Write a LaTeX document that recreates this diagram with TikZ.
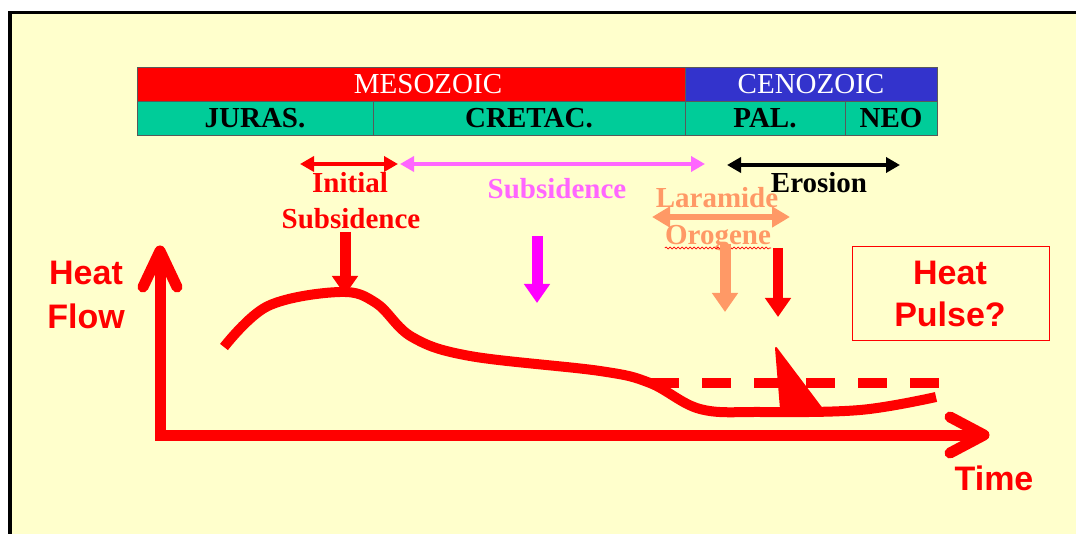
\documentclass[tikz,border=0pt]{standalone}
\usepackage{fontspec}
\setmainfont{Liberation Serif}
\setsansfont{Liberation Sans}
\usetikzlibrary{arrows.meta,positioning,calc,decorations.pathmorphing}
\definecolor{slideyellow}{HTML}{FFFFCC}
\definecolor{mesored}{HTML}{FF0000}
\definecolor{cenoblue}{HTML}{3333CC}
\definecolor{periodgreen}{HTML}{00CC99}
\definecolor{subpink}{HTML}{FF66FF}
\definecolor{subviolet}{HTML}{FF00FF}
\definecolor{oroorange}{HTML}{FF9966}

\begin{document}
\begin{tikzpicture}[
  x=1pt,y=-1pt,
  era/.style={rectangle,minimum height=34pt,inner sep=0pt,outer sep=0pt,
    draw=black!65,line width=.8pt,text=white,font=\fontsize{29}{33}\selectfont},
  period/.style={era,fill=periodgreen,text=black,font=\bfseries\fontsize{29}{33}\selectfont},
  span/.style={line width=4pt,{Triangle[width=15pt,length=14pt]}-{Triangle[width=15pt,length=14pt]}},
  phase/.style={anchor=base,inner sep=0pt,font=\bfseries\fontsize{29}{33}\selectfont},
  drop/.style={line width=11pt,-{Triangle[width=25pt,length=19pt]}},
  axis/.style={draw=red,line width=11pt,line join=round},
  big/.style={anchor=base,inner sep=0pt,text=red,font=\sffamily\bfseries\fontsize{34}{40}\selectfont}
]
\useasboundingbox (0,0) rectangle (1076,534);
\fill[white] (0,0) rectangle (1076,534);
\draw[line width=3.5pt,fill=slideyellow] (10,12.5) rectangle (1100,560);

% time scale
\node[era,fill=mesored,minimum width=548pt,anchor=north west] (meso) at (137,67) {\hspace*{34pt}MESOZOIC};
\node[era,fill=cenoblue,minimum width=252pt,right=0pt of meso] (ceno) {CENOZOIC};
\node[period,minimum width=236pt,anchor=north west] (juras) at (meso.south west) {JURAS.};
\node[period,minimum width=312pt,right=0pt of juras] (cretac) {CRETAC.};
\node[period,minimum width=160pt,right=0pt of cretac] (pal) {PAL.};
\node[period,minimum width=92pt,right=0pt of pal] (neo) {NEO};

% phases
\coordinate (initL) at (300,164);
\coordinate (initR) at (398,164);
\coordinate (subL) at (400,164);
\coordinate (subR) at (705,164);
\coordinate (erosL) at (727,165);
\coordinate (erosR) at (900,165);
\coordinate (laraL) at (652,217);
\coordinate (laraR) at (790,217);
\node[phase,text=red] (init) at (350,193) {Initial};
\node[phase,text=red] (isub) at (351,229) {Subsidence};
\node[phase,text=subpink] (sub) at (557,199) {Subsidence};
\node[phase,text=black] (eros) at (819,193) {Erosion};
\node[phase,text=oroorange] (lara) at (717,208) {Laramide};
\node[phase,text=oroorange] (orog) at (718,245) {Orogene};
\draw[red,line width=.7pt,decorate,decoration={snake,amplitude=1pt,segment length=4pt}]
  ($(orog.base west)+(0,3)$) -- ($(orog.base east)+(0,3)$);
\draw[span,draw=red] (initL) -- (initR);
\draw[span,draw=subpink,line width=3.5pt] (subL) -- (subR);
\draw[span,draw=black] (erosL) -- (erosR);
\draw[span,draw=oroorange,line width=6pt,{Triangle[width=20pt,length=18pt]}-{Triangle[width=20pt,length=18pt]}] (laraL) -- (laraR);

% drops onto the curve
\coordinate (isubtop) at (345,232);
\coordinate (isubtip) at (345,295);
\coordinate (subtop) at (537,236);
\coordinate (subtip) at (537,303);
\coordinate (orotop) at (725,244);
\coordinate (orotip) at (725,312);
\coordinate (pulsetop) at (778,248);
\coordinate (pulsetip) at (778,317);
\draw[drop,draw=red] (isubtop) -- (isubtip);
\draw[drop,draw=subviolet] (subtop) -- (subtip);
\draw[drop,draw=oroorange] (orotop) -- (orotip);
\draw[drop,draw=red,line width=10pt] (pulsetop) -- (pulsetip);

% axes
\coordinate (origin) at (160,435);
\coordinate (ytip) at (160,251);
\coordinate (xtip) at (984,435);
\draw[axis,line join=miter] (ytip) -- (origin) -- (xtip);
\draw[axis,line cap=round] ($(ytip)+(-17,36)$) -- (ytip) -- ($(ytip)+(17,36)$);
\draw[axis,line cap=round] ($(xtip)+(-34,-18)$) -- (xtip) -- ($(xtip)+(-34,18)$);
\node[big] (heat) at (86,285) {Heat};
\node[big] (flow) at (86,329) {Flow};
\node[big] (time) at (994,490) {Time};

% heat flow history
\draw[red,line width=10pt] plot[smooth,tension=.6] coordinates {
  (224,347) (268,306) (340,292) (376,303) (412,337) (470,356)
  (600,371) (650,383) (700,409) (760,412) (860,410) (936,397)};
\draw[red,line width=9pt,dash pattern=on 29pt off 23pt] (650,383) -- (939,383);
\fill[red,draw=red,line width=2pt,line join=round] (776,348) -- (781,409) -- (822,409) -- cycle;

% heat pulse
\node[draw=red,line width=1pt,minimum width=197pt,minimum height=94pt,inner sep=0pt] (pulsebox) at (950.5,294) {};
\node[big] (pulseA) at (950,285) {Heat};
\node[big] (pulseB) at (950,327) {Pulse?};
\end{tikzpicture}
\end{document}
